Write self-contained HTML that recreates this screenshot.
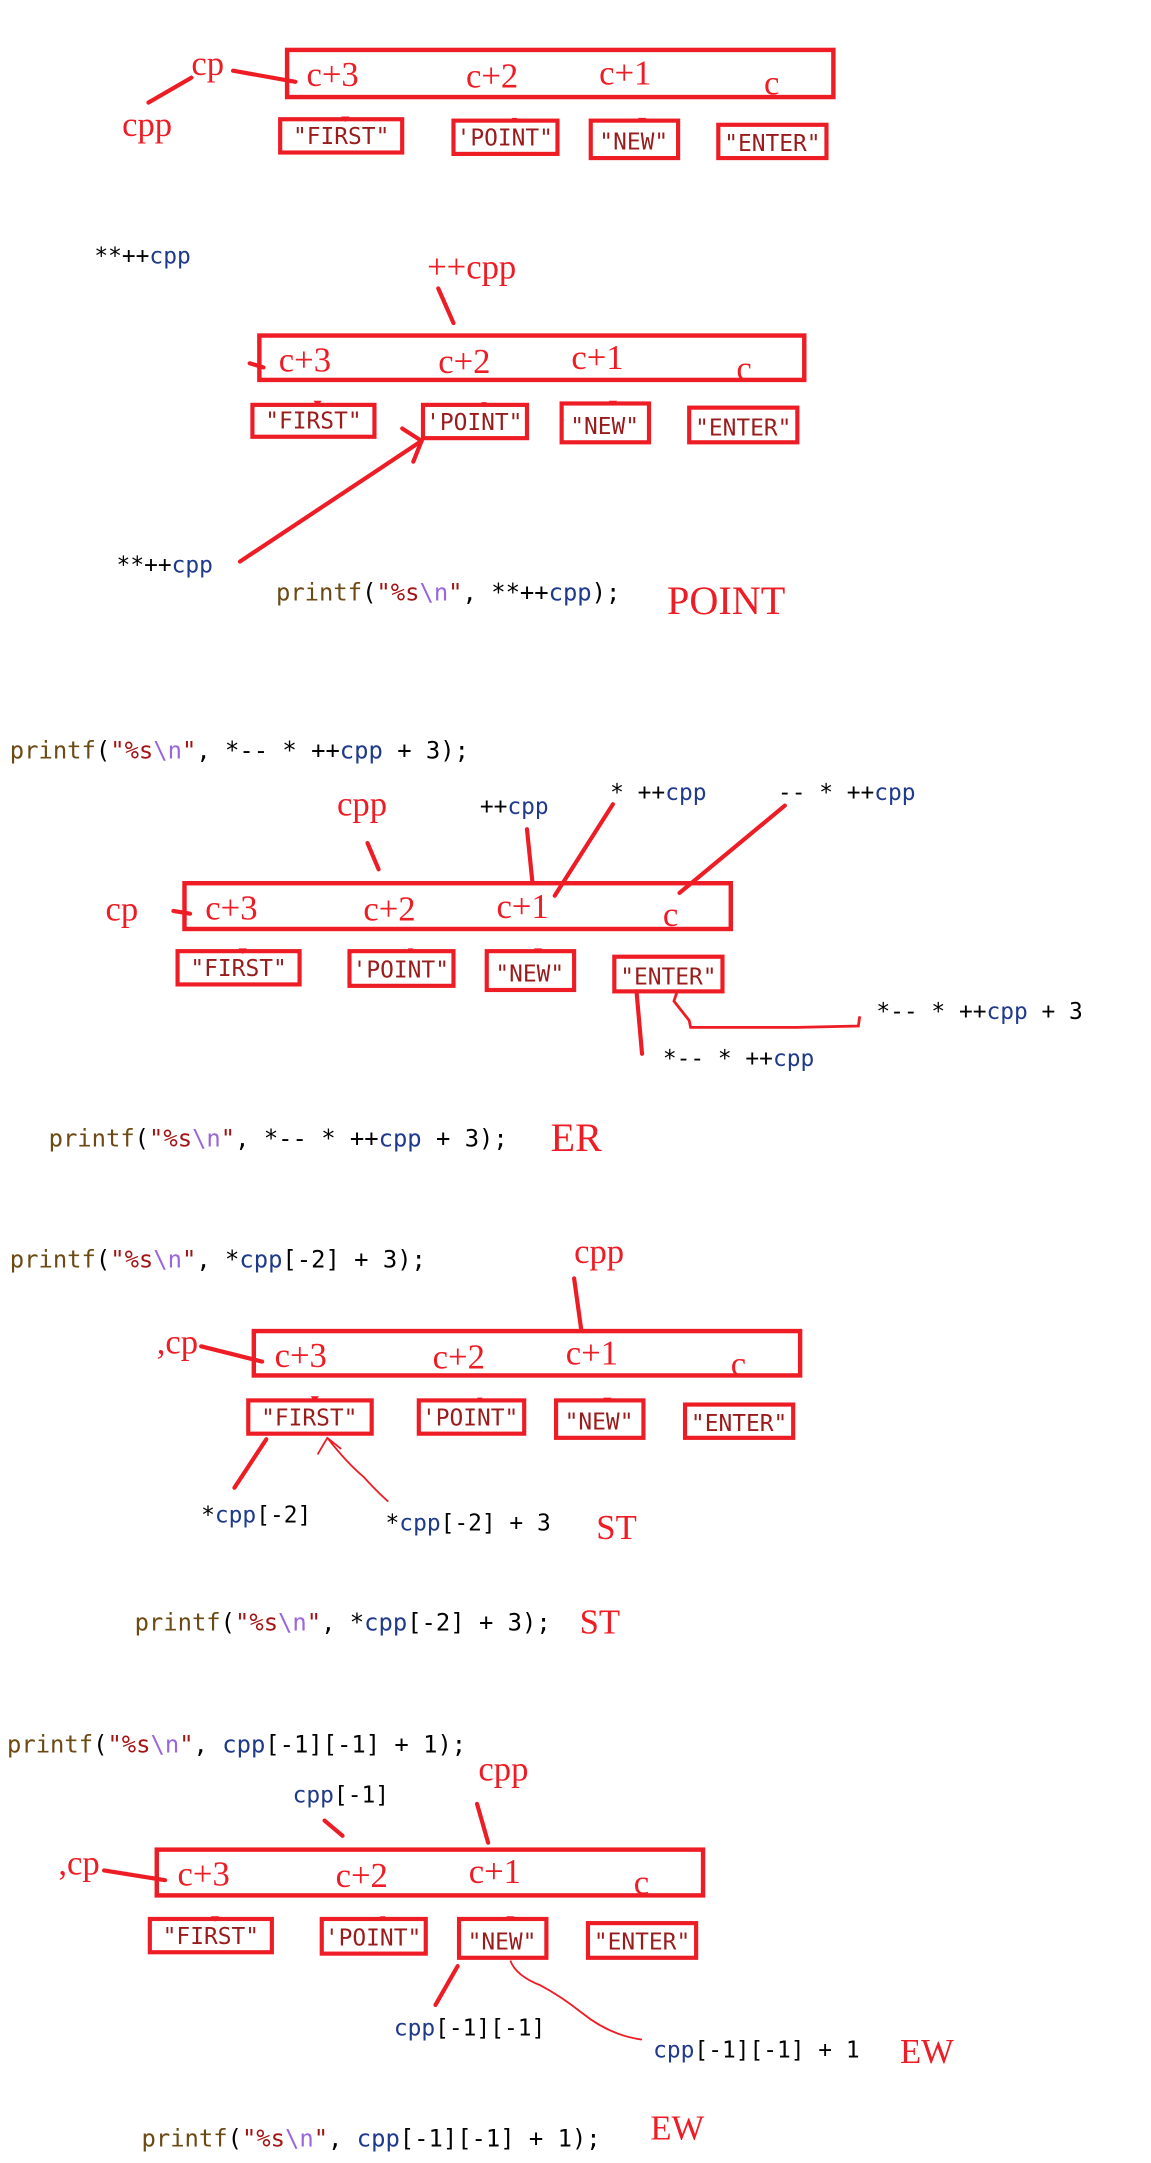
<!DOCTYPE html>
<html><head><meta charset="utf-8">
<style>
html,body{margin:0;padding:0;background:#fff;}
svg{display:block;}
.r{font-family:"Liberation Serif",serif;fill:#ee1c24;font-size:25px;}
.big{font-size:29px;}
.m{font-family:"DejaVu Sans Mono","Liberation Mono",monospace;font-size:16.5px;fill:#000;}
.code{font-family:"DejaVu Sans Mono","Liberation Mono",monospace;font-size:17.2px;fill:#000;}
.sb{font-family:"DejaVu Sans Mono","Liberation Mono",monospace;font-size:16.5px;fill:#9a1b1b;}
.pf{fill:#6b4a14;} .st{fill:#a31515;} .nl{fill:#9966dd;} .v{fill:#1f3a8a;}
.bx{fill:none;stroke:#ee1c24;stroke-width:3.2;}
.sbx{fill:none;stroke:#ee1c24;stroke-width:3;}
.ln{stroke:#ee1c24;stroke-width:3;fill:none;stroke-linecap:round;}
.th{stroke:#ee1c24;stroke-width:1.3;fill:none;}
.tri{fill:#ee1c24;}
</style></head><body>
<svg width="1151" height="2163" viewBox="0 0 830 1560" xmlns="http://www.w3.org/2000/svg">

<!-- ===== Section 1 ===== -->
<rect class="bx" x="207" y="36" width="394" height="34"/>
<text class="r" x="221" y="62">c+3</text>
<text class="r" x="336" y="63">c+2</text>
<text class="r" x="432" y="61">c+1</text>
<text class="r" x="551" y="68">c</text>
<text class="r" x="138" y="54">cp</text>
<text class="r" x="88" y="98">cpp</text>
<line class="ln" x1="168" y1="51" x2="213" y2="59"/>
<line class="ln" x1="107" y1="74" x2="138" y2="56"/>
<g>
<rect class="sbx" x="202" y="86" width="88" height="24"/><polygon class="tri" points="246,84 252,84 249,88"/><text class="sb" x="246" y="104" text-anchor="middle">"FIRST"</text>
<rect class="sbx" x="327" y="87" width="75" height="24"/><polygon class="tri" points="369,85 373,85 371,88"/><text class="sb" x="364" y="105" text-anchor="middle">'POINT"</text>
<rect class="sbx" x="426" y="87" width="63" height="27"/><polygon class="tri" points="460,85 466,85 463,88"/><text class="sb" x="457" y="108" text-anchor="middle">"NEW"</text>
<rect class="sbx" x="518" y="90" width="78" height="24"/><text class="sb" x="557" y="109" text-anchor="middle">"ENTER"</text>
</g>

<!-- ===== Section 2 ===== -->
<text class="m" x="68" y="190">**++<tspan class="v">cpp</tspan></text>
<text class="r" x="308" y="201">++cpp</text>
<line class="ln" x1="316" y1="208" x2="327" y2="233"/>
<rect class="bx" x="187" y="242" width="393" height="32"/>
<line class="ln" x1="180" y1="262" x2="190" y2="265"/>
<text class="r" x="201" y="268">c+3</text>
<text class="r" x="316" y="269">c+2</text>
<text class="r" x="412" y="266">c+1</text>
<text class="r" x="531" y="274">c</text>
<rect class="sbx" x="182" y="292" width="88" height="23"/><polygon class="tri" points="226,289 232,289 229,293"/><text class="sb" x="226" y="309" text-anchor="middle">"FIRST"</text>
<rect class="sbx" x="305" y="292" width="75" height="24"/><polygon class="tri" points="347,290 351,290 349,293"/><text class="sb" x="342" y="310" text-anchor="middle">'POINT"</text>
<rect class="sbx" x="405" y="291" width="63" height="28"/><polygon class="tri" points="439,289 445,289 442,292"/><text class="sb" x="436" y="313" text-anchor="middle">"NEW"</text>
<rect class="sbx" x="497" y="294" width="78" height="25"/><text class="sb" x="536" y="314" text-anchor="middle">"ENTER"</text>
<line class="ln" x1="173" y1="405" x2="304" y2="318"/>
<polyline class="ln" points="290,309 304,318 298,333"/>
<text class="m" x="84" y="413">**++<tspan class="v">cpp</tspan></text>
<text class="code" x="199" y="433"><tspan class="pf">printf</tspan>(<tspan class="st">"%s</tspan><tspan class="nl">\n</tspan><tspan class="st">"</tspan>, **++<tspan class="v">cpp</tspan>);</text>
<text class="r big" x="481" y="443">POINT</text>

<!-- ===== Section 3 ===== -->
<text class="code" x="7" y="547"><tspan class="pf">printf</tspan>(<tspan class="st">"%s</tspan><tspan class="nl">\n</tspan><tspan class="st">"</tspan>, *-- * ++<tspan class="v">cpp</tspan> + 3);</text>
<text class="r" x="243" y="588">cpp</text>
<text class="m" x="346" y="587">++<tspan class="v">cpp</tspan></text>
<text class="m" x="440" y="577">* ++<tspan class="v">cpp</tspan></text>
<text class="m" x="561" y="577">-- * ++<tspan class="v">cpp</tspan></text>
<line class="ln" x1="265" y1="608" x2="273" y2="627"/>
<line class="ln" x1="380" y1="598" x2="384" y2="637"/>
<line class="ln" x1="442" y1="580" x2="400" y2="646"/>
<line class="ln" x1="566" y1="581" x2="490" y2="644"/>
<rect class="bx" x="133" y="637" width="394" height="33"/>
<text class="r" x="76" y="664">cp</text>
<line class="ln" x1="125" y1="657" x2="137" y2="659"/>
<text class="r" x="148" y="663">c+3</text>
<text class="r" x="262" y="664">c+2</text>
<text class="r" x="358" y="662">c+1</text>
<text class="r" x="478" y="668">c</text>
<rect class="sbx" x="128" y="686" width="88" height="24"/><polygon class="tri" points="172,684 178,684 175,688"/><text class="sb" x="172" y="704" text-anchor="middle">"FIRST"</text>
<rect class="sbx" x="252" y="686" width="75" height="25"/><polygon class="tri" points="294,684 298,684 296,687"/><text class="sb" x="289" y="705" text-anchor="middle">'POINT"</text>
<rect class="sbx" x="351" y="686" width="63" height="28"/><polygon class="tri" points="385,684 391,684 388,687"/><text class="sb" x="382" y="708" text-anchor="middle">"NEW"</text>
<rect class="sbx" x="443" y="690" width="78" height="25"/><text class="sb" x="482" y="710" text-anchor="middle">"ENTER"</text>
<line class="ln" x1="459" y1="715" x2="463" y2="760"/>
<path class="th" d="M488,716 L486,722 L497,736 L498,741 L575,741 L619,740 L620,733" style="stroke-width:2"/>
<text class="m" x="632" y="735">*-- * ++<tspan class="v">cpp</tspan> + 3</text>
<text class="m" x="478" y="769">*-- * ++<tspan class="v">cpp</tspan></text>
<text class="code" x="35" y="827"><tspan class="pf">printf</tspan>(<tspan class="st">"%s</tspan><tspan class="nl">\n</tspan><tspan class="st">"</tspan>, *-- * ++<tspan class="v">cpp</tspan> + 3);</text>
<text class="r big" x="397" y="830">ER</text>

<!-- ===== Section 4 ===== -->
<text class="code" x="7" y="914"><tspan class="pf">printf</tspan>(<tspan class="st">"%s</tspan><tspan class="nl">\n</tspan><tspan class="st">"</tspan>, *<tspan class="v">cpp</tspan>[-2] + 3);</text>
<text class="r" x="414" y="911">cpp</text>
<line class="ln" x1="414" y1="922" x2="419" y2="958"/>
<rect class="bx" x="183" y="960" width="394" height="32"/>
<text class="r" x="113" y="976">,cp</text>
<line class="ln" x1="145" y1="971" x2="189" y2="982"/>
<text class="r" x="198" y="986">c+3</text>
<text class="r" x="312" y="987">c+2</text>
<text class="r" x="408" y="984">c+1</text>
<text class="r" x="527" y="992">c</text>
<rect class="sbx" x="179" y="1010" width="89" height="24"/><polygon class="tri" points="224,1007 230,1007 227,1011"/><text class="sb" x="223" y="1028" text-anchor="middle">"FIRST"</text>
<rect class="sbx" x="302" y="1010" width="76" height="24"/><polygon class="tri" points="344,1008 348,1008 346,1011"/><text class="sb" x="339" y="1028" text-anchor="middle">'POINT"</text>
<rect class="sbx" x="401" y="1010" width="63" height="27"/><polygon class="tri" points="435,1008 441,1008 438,1011"/><text class="sb" x="432" y="1031" text-anchor="middle">"NEW"</text>
<rect class="sbx" x="494" y="1013" width="78" height="24"/><text class="sb" x="533" y="1032" text-anchor="middle">"ENTER"</text>
<line class="ln" x1="192" y1="1038" x2="169" y2="1073"/>
<path class="th" d="M229,1049 L236,1037 L246,1045 M236,1037 Q250,1055 262,1065 Q272,1076 280,1083"/>
<text class="m" x="145" y="1098">*<tspan class="v">cpp</tspan>[-2]</text>
<text class="m" x="278" y="1104">*<tspan class="v">cpp</tspan>[-2] + 3</text>
<text class="r" x="430" y="1110">ST</text>
<text class="code" x="97" y="1176"><tspan class="pf">printf</tspan>(<tspan class="st">"%s</tspan><tspan class="nl">\n</tspan><tspan class="st">"</tspan>, *<tspan class="v">cpp</tspan>[-2] + 3);</text>
<text class="r" x="418" y="1178">ST</text>

<!-- ===== Section 5 ===== -->
<text class="code" x="5" y="1264"><tspan class="pf">printf</tspan>(<tspan class="st">"%s</tspan><tspan class="nl">\n</tspan><tspan class="st">"</tspan>, <tspan class="v">cpp</tspan>[-1][-1] + 1);</text>
<text class="r" x="345" y="1284">cpp</text>
<line class="ln" x1="344" y1="1301" x2="352" y2="1329"/>
<text class="m" x="211" y="1300"><tspan class="v">cpp</tspan>[-1]</text>
<line class="ln" x1="234" y1="1313" x2="247" y2="1324"/>
<rect class="bx" x="113" y="1334" width="394" height="33"/>
<text class="r" x="42" y="1352">,cp</text>
<line class="ln" x1="75" y1="1349" x2="119" y2="1356"/>
<text class="r" x="128" y="1360">c+3</text>
<text class="r" x="242" y="1361">c+2</text>
<text class="r" x="338" y="1358">c+1</text>
<text class="r" x="457" y="1366">c</text>
<rect class="sbx" x="108" y="1384" width="88" height="24"/><polygon class="tri" points="152,1382 158,1382 155,1386"/><text class="sb" x="152" y="1402" text-anchor="middle">"FIRST"</text>
<rect class="sbx" x="232" y="1384" width="75" height="25"/><polygon class="tri" points="274,1382 278,1382 276,1385"/><text class="sb" x="269" y="1403" text-anchor="middle">'POINT"</text>
<rect class="sbx" x="331" y="1384" width="63" height="28"/><polygon class="tri" points="365,1382 371,1382 368,1385"/><text class="sb" x="362" y="1406" text-anchor="middle">"NEW"</text>
<rect class="sbx" x="424" y="1387" width="78" height="25"/><text class="sb" x="463" y="1406" text-anchor="middle">"ENTER"</text>
<line class="ln" x1="330" y1="1418" x2="314" y2="1446"/>
<path class="th" d="M368,1414 Q372,1425 390,1432 Q405,1440 420,1452 Q440,1468 463,1471"/>
<text class="m" x="284" y="1468"><tspan class="v">cpp</tspan>[-1][-1]</text>
<text class="m" x="471" y="1484"><tspan class="v">cpp</tspan>[-1][-1] + 1</text>
<text class="r" x="649" y="1488">EW</text>
<text class="code" x="102" y="1548"><tspan class="pf">printf</tspan>(<tspan class="st">"%s</tspan><tspan class="nl">\n</tspan><tspan class="st">"</tspan>, <tspan class="v">cpp</tspan>[-1][-1] + 1);</text>
<text class="r" x="469" y="1543">EW</text>
</svg>
</body></html>
